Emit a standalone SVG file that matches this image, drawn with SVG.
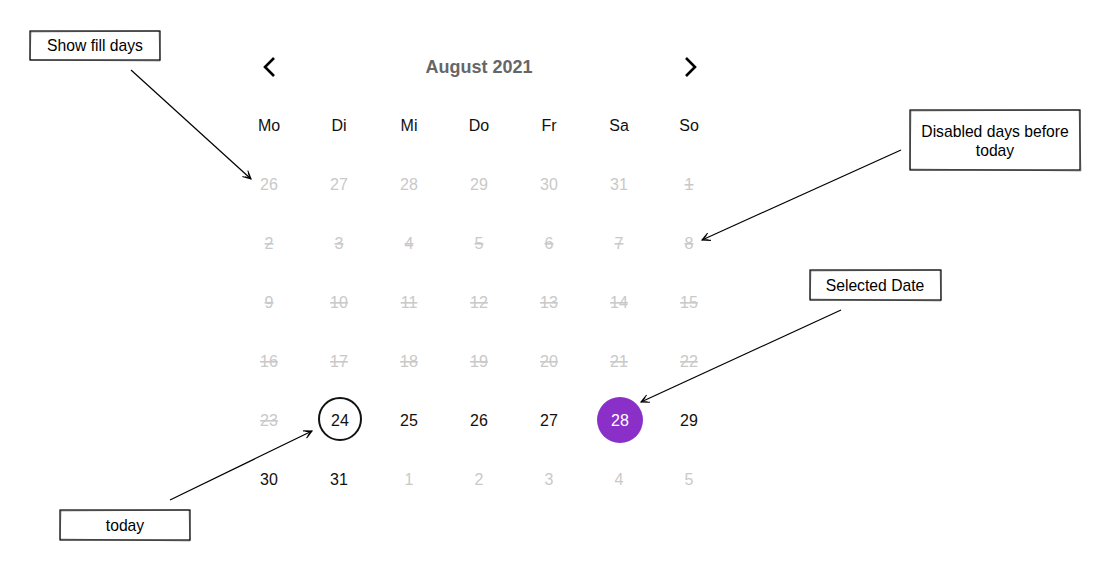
<svg xmlns="http://www.w3.org/2000/svg" width="1111" height="571" viewBox="0 0 1111 571">
<defs>
<style>
.t{font-family:"Liberation Sans",Arial,sans-serif;text-anchor:middle;dominant-baseline:central}
.lbl{font-size:15.7px;fill:#000}
.wd{font-size:16px;fill:#111}
.d{font-size:16px;fill:#111}
.g{font-size:16px;fill:#c9c9c9}
.x{font-size:16px;fill:#c9c9c9;text-decoration:line-through}
.box{fill:#fff;stroke:#000;stroke-width:1.2}
.box2{fill:none;stroke:#000;stroke-width:0.6;opacity:0.6}
.con{stroke:#000;stroke-width:1.2;fill:none;marker-end:url(#ah)}
</style>
<marker id="ah" viewBox="0 0 10 10" refX="9" refY="5" markerWidth="10" markerHeight="10" markerUnits="userSpaceOnUse" orient="auto">
<path d="M1,1 L9,5 L1,9 M3,2.5 L8,5 L3,7.5" fill="none" stroke="#000" stroke-width="1.1"/>
</marker>
</defs>
<rect width="1111" height="571" fill="#fff"/>

<g id="connectors">
<path class="con" d="M131,70 L251,179"/>
<path class="con" d="M901,150 L702,240"/>
<path class="con" d="M841,310 L641,402"/>
<path class="con" d="M170,500 L312,431"/>
</g>

<g id="note-fill">
<rect class="box" x="30" y="31" width="130" height="29"/>
<path class="box2" d="M31,32 L159,31 L160,61 L30,60 Z"/>
<text class="t lbl" x="95" y="45">Show fill days</text>
</g>
<g id="note-disabled">
<rect class="box" x="910" y="110" width="170" height="60"/>
<path class="box2" d="M911,111 L1079,110 L1081,171 L910,169 Z"/>
<text class="t lbl" x="995" y="131">Disabled days before</text>
<text class="t lbl" x="995" y="150">today</text>
</g>
<g id="note-selected">
<rect class="box" x="810" y="270" width="131" height="30"/>
<path class="box2" d="M811,271 L940,270 L941,301 L810,299 Z"/>
<text class="t lbl" x="875" y="285">Selected Date</text>
</g>
<g id="note-today">
<rect class="box" x="60" y="510" width="130" height="30"/>
<path class="box2" d="M61,511 L189,510 L190,541 L60,539 Z"/>
<text class="t lbl" x="125" y="525">today</text>
</g>

<g id="header">
<path d="M274,58 L265,67 L274,76" fill="none" stroke="#000" stroke-width="2.6"/>
<path d="M686,58 L695,67 L686,76" fill="none" stroke="#000" stroke-width="2.6"/>
<text class="t" x="479" y="67" style="font-size:18px;font-weight:bold;fill:#666">August 2021</text>
</g>

<g id="weekdays">
<text class="t wd" x="269" y="125">Mo</text>
<text class="t wd" x="339" y="125">Di</text>
<text class="t wd" x="409" y="125">Mi</text>
<text class="t wd" x="479" y="125">Do</text>
<text class="t wd" x="549" y="125">Fr</text>
<text class="t wd" x="619" y="125">Sa</text>
<text class="t wd" x="689" y="125">So</text>
</g>

<g id="today-marker">
<circle cx="340" cy="419" r="21" fill="none" stroke="#111" stroke-width="2"/>
</g>
<g id="selected-marker">
<circle cx="620" cy="420" r="23" fill="#8b2fc9"/>
</g>

<g id="days">
<text class="t g" x="269" y="184">26</text>
<text class="t g" x="339" y="184">27</text>
<text class="t g" x="409" y="184">28</text>
<text class="t g" x="479" y="184">29</text>
<text class="t g" x="549" y="184">30</text>
<text class="t g" x="619" y="184">31</text>
<text class="t x" x="689" y="184">1</text>

<text class="t x" x="269" y="243">2</text>
<text class="t x" x="339" y="243">3</text>
<text class="t x" x="409" y="243">4</text>
<text class="t x" x="479" y="243">5</text>
<text class="t x" x="549" y="243">6</text>
<text class="t x" x="619" y="243">7</text>
<text class="t x" x="689" y="243">8</text>

<text class="t x" x="269" y="302">9</text>
<text class="t x" x="339" y="302">10</text>
<text class="t x" x="409" y="302">11</text>
<text class="t x" x="479" y="302">12</text>
<text class="t x" x="549" y="302">13</text>
<text class="t x" x="619" y="302">14</text>
<text class="t x" x="689" y="302">15</text>

<text class="t x" x="269" y="361">16</text>
<text class="t x" x="339" y="361">17</text>
<text class="t x" x="409" y="361">18</text>
<text class="t x" x="479" y="361">19</text>
<text class="t x" x="549" y="361">20</text>
<text class="t x" x="619" y="361">21</text>
<text class="t x" x="689" y="361">22</text>

<text class="t x" x="269" y="420">23</text>
<text class="t d" x="340" y="420">24</text>
<text class="t d" x="409" y="420">25</text>
<text class="t d" x="479" y="420">26</text>
<text class="t d" x="549" y="420">27</text>
<text class="t" x="620" y="420" style="font-size:16px;fill:#fff">28</text>
<text class="t d" x="689" y="420">29</text>

<text class="t d" x="269" y="479">30</text>
<text class="t d" x="339" y="479">31</text>
<text class="t g" x="409" y="479">1</text>
<text class="t g" x="479" y="479">2</text>
<text class="t g" x="549" y="479">3</text>
<text class="t g" x="619" y="479">4</text>
<text class="t g" x="689" y="479">5</text>
</g>
</svg>
